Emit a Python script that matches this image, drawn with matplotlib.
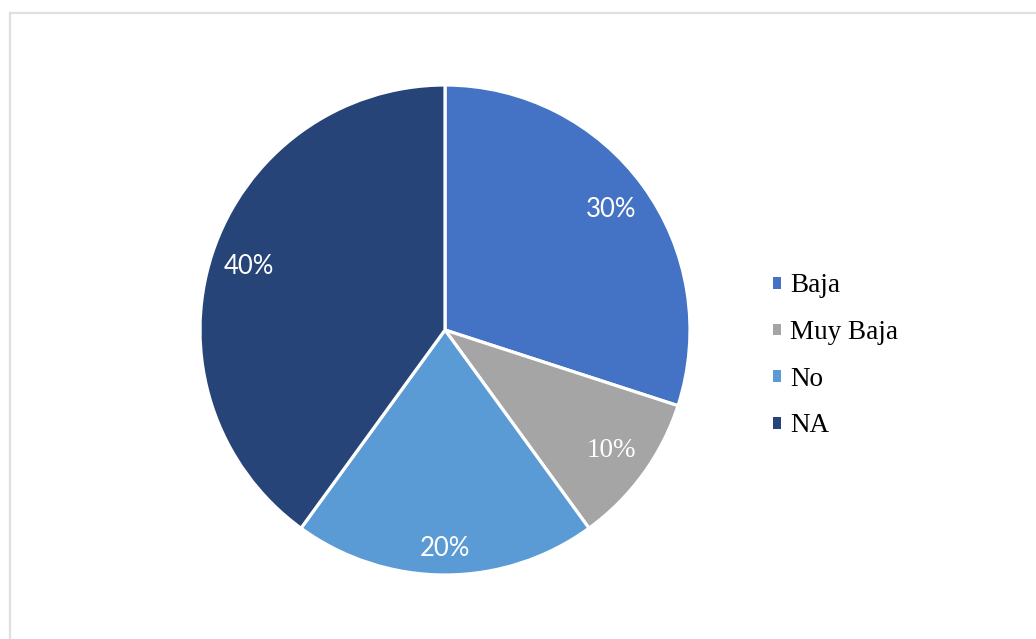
import matplotlib
matplotlib.use("Agg")
import matplotlib.pyplot as plt
from matplotlib.lines import Line2D
import numpy as np

categories = ["Baja", "Muy Baja", "No", "NA"]
values = [30, 10, 20, 40]
colors = ["#4472C4", "#A5A5A5", "#5B9BD5", "#264478"]

W, H = 1036, 639
fig = plt.figure(figsize=(W / 100, H / 100), dpi=100)
fig.patch.set_facecolor("white")

# frame lines (top and left light gray border)
border = "#e0e0e0"
fig.add_artist(Line2D([10 / W, 1.0], [1 - 13 / H, 1 - 13 / H], transform=fig.transFigure, color=border, lw=1.6))
fig.add_artist(Line2D([10 / W, 10 / W], [1 - 13 / H, 0.0], transform=fig.transFigure, color=border, lw=1.6))

ax = fig.add_axes([200 / W, (H - 575) / H, 490 / W, 490 / H])
wedges, texts = ax.pie(values, colors=colors, startangle=90, counterclock=False,
                       wedgeprops=dict(edgecolor="white", linewidth=2.3))
ax.set_aspect("equal")
ax.set_xlim(-1, 1)
ax.set_ylim(-1, 1)

dists = [0.84, 0.84, 0.89, 0.84]
fonts = [("Lato", 18.5), ("Liberation Serif", 19.5), ("Lato", 18.5), ("Lato", 18.5)]
for w, v, d, (fam, fs) in zip(wedges, values, dists, fonts):
    ang = np.deg2rad((w.theta1 + w.theta2) / 2)
    ax.text(d * np.cos(ang), d * np.sin(ang), f"{v}%", ha="center", va="center",
            color="white", family=fam, fontsize=fs)

leg = ax.legend(wedges, categories, loc="center left", bbox_to_anchor=(749 / W, (H - 356) / H),
                bbox_transform=fig.transFigure, frameon=False,
                prop=dict(family="Liberation Serif", size=19.5),
                handlelength=0.28, handleheight=0.28, handletextpad=0.35, labelspacing=0.8)
for h in leg.legend_handles:
    h.set_edgecolor("none")

fig.savefig("out.png", dpi=100, facecolor="white")
